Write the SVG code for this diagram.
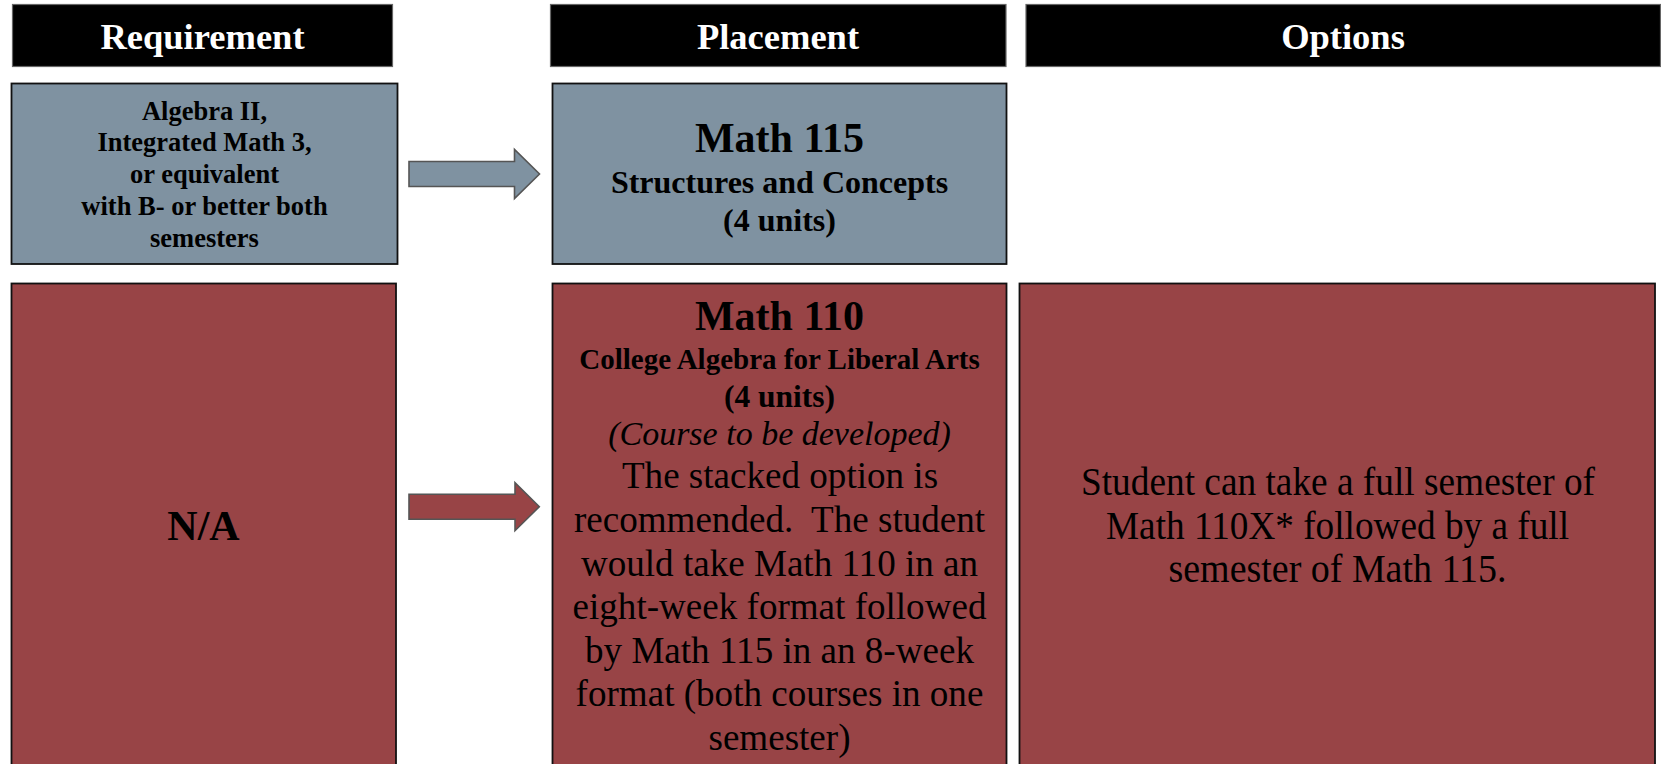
<svg xmlns="http://www.w3.org/2000/svg" width="1661" height="764" viewBox="0 0 1661 764">
<style>
text{font-family:"Liberation Serif","Times New Roman",serif;text-anchor:middle;fill:#000}
.hdr rect{fill:#000;stroke:#666;stroke-width:1.2}
.hdr text{fill:#fff;font-weight:bold;font-size:36.5px}
.gray{fill:#7f92a1;stroke:#111;stroke-width:1.8}
.red{fill:#984446;stroke:#111;stroke-width:1.8}
.b{font-weight:bold}
.p{font-size:37.1px}
.arrow{stroke:#555;stroke-width:1.6}
</style>
<rect width="1661" height="764" fill="#fff"/>
<g id="header-requirement" class="hdr"><rect x="12.5" y="4.5" width="380" height="62"/><text x="202.5" y="49">Requirement</text></g>
<g id="header-placement" class="hdr"><rect x="550.5" y="4.5" width="455.5" height="62"/><text x="778" y="49">Placement</text></g>
<g id="header-options" class="hdr"><rect x="1026" y="4.5" width="634.5" height="62"/><text x="1343" y="49">Options</text></g>

<g id="req-algebra">
<rect class="gray" x="11.5" y="83.5" width="386" height="180.5"/>
<text class="b" font-size="26.5" x="204.5" y="119.5">Algebra II,</text>
<text class="b" font-size="26.5" x="204.5" y="151.3">Integrated Math 3,</text>
<text class="b" font-size="26.5" x="204.5" y="183">or equivalent</text>
<text class="b" font-size="26.5" x="204.5" y="214.8">with B- or better both</text>
<text class="b" font-size="26.5" x="204.5" y="246.5">semesters</text>
</g>
<g id="place-math115">
<rect class="gray" x="552.5" y="83.5" width="454" height="180.5"/>
<text class="b" font-size="42" x="779.5" y="151.5">Math 115</text>
<text class="b" font-size="32" x="779.5" y="192.7">Structures and Concepts</text>
<text class="b" font-size="32" x="779.5" y="230.5">(4 units)</text>
</g>
<g id="req-na">
<rect class="red" x="11.5" y="283.5" width="384.5" height="490"/>
<text class="b" font-size="42" x="203.5" y="540">N/A</text>
</g>
<g id="place-math110">
<rect class="red" x="552.5" y="283.5" width="454" height="490"/>
<text class="b" font-size="42" x="779.5" y="330">Math 110</text>
<text class="b" font-size="29" x="779.5" y="369">College Algebra for Liberal Arts</text>
<text class="b" font-size="31.5" x="779.5" y="407">(4 units)</text>
<text font-style="italic" font-size="34" x="779.5" y="444.5">(Course to be developed)</text>
<text class="p" x="780" y="488.3">The stacked option is</text>
<text class="p" x="779.5" y="531.9" xml:space="preserve">recommended.  The student</text>
<text class="p" x="779.5" y="575.5">would take Math 110 in an</text>
<text class="p" x="779.5" y="619.1">eight-week format followed</text>
<text class="p" x="779.5" y="662.7">by Math 115 in an 8-week</text>
<text class="p" x="779.5" y="706.3">format (both courses in one</text>
<text class="p" x="779.5" y="749.9">semester)</text>
</g>
<g id="options-math110x">
<rect class="red" x="1019.5" y="283.5" width="635.5" height="490"/>
<text font-size="40" x="1338" y="495.3" textLength="514" lengthAdjust="spacingAndGlyphs">Student can take a full semester of</text>
<text font-size="40" x="1337.5" y="538.5" textLength="463" lengthAdjust="spacingAndGlyphs">Math 110X* followed by a full</text>
<text font-size="40" x="1337.5" y="581.7" textLength="338" lengthAdjust="spacingAndGlyphs">semester of Math 115.</text>
</g>

<g id="connectors">
<polygon class="arrow" fill="#7f92a1" points="409,161.5 514.5,161.5 514.5,149.5 539.5,174 514.5,198.5 514.5,186.5 409,186.5"/>
<polygon class="arrow" fill="#984446" points="409,494.3 515,494.3 515,482.7 539.3,506.7 515,530.7 515,519.3 409,519.3"/>
</g>
</svg>
